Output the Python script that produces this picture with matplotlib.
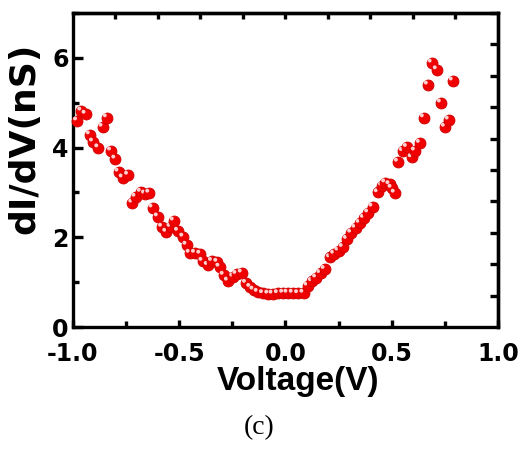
import matplotlib
matplotlib.use("Agg")
import matplotlib.pyplot as plt
import matplotlib.transforms as mtransforms
import numpy as np

# ---- data ----
voltage = [-0.98, -0.96, -0.94, -0.92, -0.905, -0.88, -0.86, -0.84, -0.82, -0.80,
           -0.785, -0.765, -0.74, -0.72, -0.705, -0.68, -0.66, -0.64, -0.625, -0.60,
           -0.58, -0.56, -0.54, -0.525, -0.505, -0.48, -0.465, -0.45, -0.425, -0.40,
           -0.39, -0.365, -0.345, -0.32, -0.31, -0.29, -0.27, -0.245, -0.23, -0.205,
           -0.185, -0.165, -0.15, -0.13, -0.105, -0.08, -0.06, -0.035, -0.01, 0.01,
           0.035, 0.06, 0.085, 0.105, 0.125, 0.145, 0.165, 0.185, 0.21, 0.23,
           0.25, 0.27, 0.29, 0.31, 0.33, 0.35, 0.37, 0.39, 0.41, 0.435,
           0.455, 0.47, 0.49, 0.50, 0.515, 0.53, 0.553, 0.572, 0.595, 0.61,
           0.633, 0.652, 0.671, 0.689, 0.713, 0.732, 0.751, 0.769, 0.788]
conductance = [4.60, 4.82, 4.75, 4.29, 4.13, 4.00, 4.46, 4.67, 3.93, 3.75,
               3.46, 3.33, 3.39, 2.77, 2.90, 3.01, 2.97, 2.99, 2.66, 2.46,
               2.23, 2.12, 2.23, 2.37, 2.14, 2.01, 1.83, 1.65, 1.65, 1.63,
               1.47, 1.38, 1.47, 1.45, 1.34, 1.16, 1.03, 1.12, 1.18, 1.21,
               0.98, 0.89, 0.83, 0.78, 0.75, 0.74, 0.74, 0.75, 0.76, 0.76,
               0.76, 0.75, 0.76, 0.92, 1.02, 1.10, 1.20, 1.29, 1.55, 1.63,
               1.70, 1.78, 1.96, 2.10, 2.21, 2.32, 2.43, 2.55, 2.68, 3.00,
               3.15, 3.22, 3.18, 3.10, 2.99, 3.68, 3.92, 4.01, 3.78, 3.93,
               4.10, 4.67, 5.40, 5.89, 5.74, 5.00, 4.46, 4.62, 5.49]

x_major = [-1.0, -0.5, 0.0, 0.5, 1.0]
x_labels = ["-1.0", "-0.5", "0.0", "0.5", "1.0"]
y_major = [0, 2, 4, 6]
y_labels = ["0", "2", "4", "6"]

fig = plt.figure(figsize=(5.25, 4.5), dpi=100)
ax = fig.add_axes([0.1390, 0.2733, 0.8095, 0.6978])
ax.set_xlim(-1.0, 1.0)
ax.set_ylim(0, 7)

# glossy red balls
hl = mtransforms.offset_copy(ax.transData, fig=fig, x=-1.6, y=1.6, units='points')
for i, (v, g) in enumerate(zip(voltage, conductance)):
    ax.scatter([v], [g], s=62, color='#f00000', edgecolors='#d00000', linewidths=0.6,
               zorder=3 + 2 * i, clip_on=False)
    ax.scatter([v], [g], s=8, color='#ffd0d0', edgecolors='none',
               transform=hl, zorder=4 + 2 * i, clip_on=False)

lw = 2.4
for s in ax.spines.values():
    s.set_linewidth(lw)

tfont = dict(family='DejaVu Sans', weight='bold', size=17)
ax.set_xticks(x_major)
ax.set_xticklabels(x_labels, fontdict=tfont)
ax.set_xticks(np.arange(-0.75, 1.0, 0.5), minor=True)
ax.set_yticks(y_major)
ax.set_yticklabels(y_labels, fontdict=tfont)
ax.set_yticks([1, 3, 5, 7], minor=True)
ax.tick_params(axis='x', which='major', direction='in', length=5, width=lw, pad=11, top=False)
ax.tick_params(axis='x', which='minor', direction='in', length=4, width=lw, top=False)
ax.tick_params(axis='y', which='major', direction='in', length=7, width=lw, pad=3, right=False)
ax.tick_params(axis='y', which='minor', direction='in', length=4, width=lw, right=False)

# top / right ticks
secx = ax.secondary_xaxis('top')
secx.set_xticks(np.round(np.arange(-0.8, 0.81, 0.2), 2))
secx.tick_params(direction='in', length=4, width=lw, labeltop=False)
secx.spines['top'].set_linewidth(lw)
secy = ax.secondary_yaxis('right')
secy.set_yticks(np.round(np.arange(0.7, 7.01, 0.7), 2))
secy.tick_params(direction='in', length=6, width=lw, labelright=False)
secy.spines['right'].set_linewidth(lw)

ax.set_xlabel("Voltage(V)", family='Liberation Sans', weight='bold', size=24, labelpad=0)
ax.xaxis.set_label_coords(0.53, -0.125)
ax.set_ylabel("dI/dV(nS)", family='DejaVu Sans', weight='bold', size=26, labelpad=2)
ax.yaxis.set_label_coords(-0.074, 0.60)

fig.text(0.494, 0.05, "(c)", family='Liberation Serif', size=20, ha='center', va='center')

fig.savefig("out.png", dpi=100)
